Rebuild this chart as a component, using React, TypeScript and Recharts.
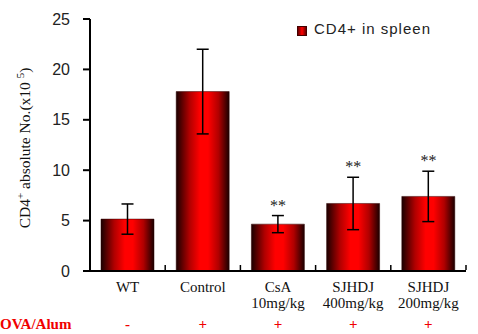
import { ComposedChart, Bar, Line, XAxis, YAxis, ErrorBar, LabelList } from 'recharts'

const groups = ['WT', 'Control', 'CsA\n10mg/kg', 'SJHDJ\n400mg/kg', 'SJHDJ\n200mg/kg']
const means = [5.15, 17.8, 4.65, 6.7, 7.4]
const errors = [1.5, 4.2, 0.85, 2.6, 2.5]
const marks = ['', '', '**', '**', '**']
const ovaAlum = ['-', '+', '+', '+', '+']
const yTicks = [0, 5, 10, 15, 20, 25]

const data = groups.map((g, i) => ({
  name: g,
  mean: means[i],
  err: errors[i],
  top: means[i] + errors[i],
  sig: marks[i],
  ova: ovaAlum[i],
}))

const W = 478
const H = 334
const LEFT = 90
const RIGHT = 12
const BAND = (W - LEFT - RIGHT) / groups.length

const serif = '"Liberation Serif", "Times New Roman", serif'
const sans = '"Liberation Sans", Arial, sans-serif'

function GroupTick(props: any) {
  const { x, y, payload, index } = props
  const lines = String(payload.value).split('\n')
  const left = x - BAND / 2
  return (
    <g>
      <line x1={left} x2={left} y1={y - 14} y2={y - 9} stroke="#000" strokeWidth={1.5} />
      {index === groups.length - 1 && (
        <line x1={left + BAND} x2={left + BAND} y1={y - 14} y2={y - 9} stroke="#000" strokeWidth={1.5} />
      )}
      {lines.map((l, i) => (
        <text key={i} x={x} y={y + 13 + i * 16} textAnchor="middle" fontFamily={serif} fontSize={15} fill="#111">
          {l}
        </text>
      ))}
      <text x={x} y={y + 50} textAnchor="middle" fontFamily={serif} fontWeight="bold" fontSize={15} fill="#f00000">
        {data[index]?.ova}
      </text>
      {index === 0 && (
        <text x={0} y={y + 50} fontFamily={serif} fontWeight="bold" fontSize={15} fill="#f00000">
          OVA/Alum
        </text>
      )}
    </g>
  )
}

function StarLabel(props: any) {
  const { x, y, value } = props
  if (!value) return null
  return (
    <text x={x} y={y - 5} textAnchor="middle" fontFamily={serif} fontSize={16} fill="#222">
      {value}
    </text>
  )
}

export default function App() {
  return (
    <div style={{ position: 'absolute', left: 0, top: 0, width: W, height: H, background: '#fff' }}>
      <ComposedChart width={W} height={H} data={data} margin={{ top: 19, right: RIGHT, left: 0, bottom: 0 }}>
        <defs>
          <linearGradient id="barGrad" x1="0" y1="0" x2="1" y2="0">
            <stop offset="0%" stopColor="#1a0000" />
            <stop offset="25%" stopColor="#b00000" />
            <stop offset="45%" stopColor="#ff0000" />
            <stop offset="60%" stopColor="#ff0000" />
            <stop offset="80%" stopColor="#b00000" />
            <stop offset="100%" stopColor="#1a0000" />
          </linearGradient>
        </defs>
        <text x={30} y={148} transform="rotate(-90 30 148)" textAnchor="middle" fontFamily={serif} fontSize={15.5} fill="#111">
          CD4<tspan dy={-6} fontSize={11}>+</tspan>
          <tspan dy={6}> absolute No.(x10 </tspan>
          <tspan dy={-6} fontSize={11}>5</tspan>
          <tspan dy={6}>)</tspan>
        </text>
        <XAxis
          dataKey="name"
          height={63}
          interval={0}
          tickLine={false}
          axisLine={{ stroke: '#000', strokeWidth: 2 }}
          tick={<GroupTick />}
        />
        <YAxis
          width={LEFT}
          domain={[0, 25]}
          ticks={yTicks}
          tickSize={7}
          tickMargin={13}
          axisLine={{ stroke: '#000', strokeWidth: 2 }}
          tickLine={{ stroke: '#000', strokeWidth: 2 }}
          tick={{ fontFamily: sans, fontSize: 16, fill: '#222' }}
        />
        <Bar dataKey="mean" barSize={53} fill="url(#barGrad)" stroke="#300" strokeWidth={0.5} isAnimationActive={false}>
          <ErrorBar dataKey="err" width={6} stroke="#000" strokeWidth={1.5} />
        </Bar>
        <Line dataKey="top" stroke="none" dot={false} activeDot={false} isAnimationActive={false}>
          <LabelList dataKey="sig" content={<StarLabel />} />
        </Line>
      </ComposedChart>
      <div style={{ position: 'absolute', left: 297, top: 26, width: 8, height: 8, background: 'linear-gradient(90deg,#600,#f00,#600)', border: '0.5px solid #400' }} />
      <div style={{ position: 'absolute', left: 314, top: 20, fontFamily: sans, fontSize: 15, letterSpacing: 1, color: '#222', whiteSpace: 'nowrap' }}>
        CD4+ in spleen
      </div>
    </div>
  )
}
